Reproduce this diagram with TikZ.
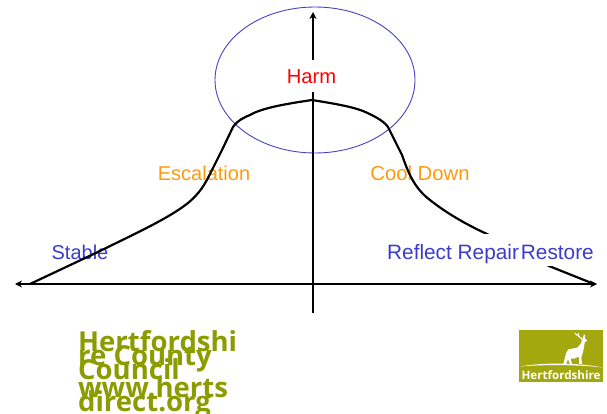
\documentclass[tikz,border=0pt]{standalone}
\usepackage{fontspec}
\setmainfont{Liberation Sans}
\newfontfamily\greenfont{Open Sans}[BoldFont={* Bold}]
\usetikzlibrary{shapes.geometric,arrows.meta}
\definecolor{labblue}{HTML}{3C3CCC}
\definecolor{ringblue}{HTML}{4444C4}
\definecolor{laborange}{HTML}{FF9A10}
\definecolor{logogreen}{HTML}{A3A80F}
\definecolor{textgreen}{HTML}{8C9C00}
\newcommand{\tightset}{\greenfont\bfseries\fontsize{27.5}{14}\selectfont\setlength{\lineskiplimit}{-100pt}\relax}
\tikzset{
  lab/.style={inner sep=0pt,font=\fontsize{20}{24}\selectfont},
  axisline/.style={line width=1.9pt,-{Stealth[length=7pt,width=7pt]}},
  bellcurve/.style={line width=2.2pt,line join=round},
  ring/.style={ellipse,draw=ringblue,line width=0.9pt,minimum width=200pt,minimum height=146pt,inner sep=0pt},
}
\begin{document}
\begin{tikzpicture}[x=1pt,y=-1pt]
\clip (0,0) rectangle (607,414);
\fill[white] (0,0) rectangle (607,414);
\node[ring] (ring) at (315,80) {};
\coordinate (origin) at (313,284);
\coordinate (left) at (15,284);
\coordinate (right) at (597,284);
\coordinate (top) at (313,12);
\coordinate (bottom) at (313,313);
\draw[axisline] (origin) -- (left);
\draw[axisline] (origin) -- (right);
\draw[line width=1.9pt] (origin) -- (bottom);
\draw[axisline] (origin) -- (top);
\node[lab,text=laborange,anchor=base] (esc) at (204,181) {Escalation};
\node[lab,text=laborange,anchor=base,font=\fontsize{20.3}{24}\selectfont] (cool) at (420,181) {Cool Down};
\node[lab,text=labblue,anchor=base] (stable) at (80,259) {Stable};
\draw[bellcurve] (30,284) -- (100,251) .. controls (130,236) and (168,219) .. (188,203)
  .. controls (200,193) and (205,184) .. (210,174) -- (222,150) -- (233,127)
  .. controls (238,120) and (245,117) .. (250,115)
  .. controls (262,108) and (285,104) .. (312,100)
  .. controls (330,103) and (350,106) .. (363,111)
  .. controls (372,115) and (383,120) .. (388,127)
  -- (402,155) .. controls (408,172) and (414,188) .. (430,200)
  .. controls (445,212) and (465,224) .. (487,234) -- (549,266) -- (594,284);
\node[fill=white,minimum width=209pt,minimum height=32pt,inner sep=0pt] (rbox) at (491,250) {};
\node[lab,text=labblue,anchor=base,font=\fontsize{20.8}{24}\selectfont] (reflect) at (490.5,259) {Reflect Repair\kern2pt Restore};
\node[fill=white,minimum width=52pt,minimum height=32pt,inner sep=0pt] (hbox) at (312,76) {};
\node[lab,text=red,anchor=base,font=\fontsize{20.2}{24}\selectfont] (harm) at (311.5,84) {Harm};
\node[anchor=north west,inner sep=0pt,align=left,text=textgreen,font=\tightset] (council) at (78,330.5) {Hertfordshi\\re County\\Council\\[3.3pt]www.herts\\direct.org};
% logo
\node[fill=logogreen,minimum width=84pt,minimum height=52pt,inner sep=0pt] (logo) at (561,356) {};
\fill[white] (520,366.5) .. controls (540,362.5) and (580,362.5) .. (602,367.5) .. controls (580,364.5) and (540,364.5) .. (520,366.5) -- cycle;
\begin{scope}[shift={(500,310)},x=0.3333pt,y=-0.3333pt]
\fill[white] (190,162) -- (198,130) -- (205,118) -- (232,113) -- (243,100) -- (246,90) -- (240,84) -- (222,70) -- (228,72) -- (224,66) -- (232,74) -- (236,68) -- (238,78) -- (248,86) -- (252,72) -- (256,78) -- (254,84) -- (262,92) -- (254,97) -- (252,112) -- (248,130) -- (244,142) -- (246,162) -- (238,162) -- (236,140) -- (222,146) -- (212,146) -- (216,162) -- (210,162) -- (204,148) -- (198,162) -- cycle;
\end{scope}
\node[anchor=base,inner sep=0pt,text=white,font=\greenfont\bfseries\fontsize{11.6}{14}\selectfont] (logotext) at (561,379) {Hertfordshire};
\end{tikzpicture}
\end{document}
